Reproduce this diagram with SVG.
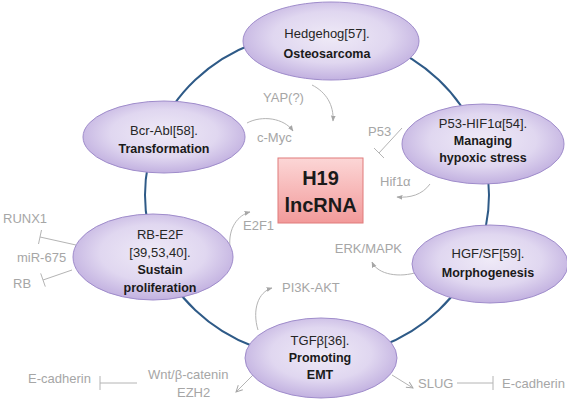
<svg xmlns="http://www.w3.org/2000/svg" width="567" height="402" viewBox="0 0 567 402">
<defs>
  <radialGradient id="ellFill" cx="50%" cy="45%" r="55%">
    <stop offset="0" stop-color="#efeaf7"/>
    <stop offset="0.6" stop-color="#e0d7f0"/>
    <stop offset="1" stop-color="#c2b1e0"/>
  </radialGradient>
  <linearGradient id="boxFill" x1="0" y1="0" x2="0" y2="1">
    <stop offset="0" stop-color="#fcd6d6"/>
    <stop offset="1" stop-color="#f29a9a"/>
  </linearGradient>
  <marker id="arr" viewBox="0 0 10 10" refX="9" refY="5" markerWidth="6" markerHeight="6" orient="auto" markerUnits="userSpaceOnUse">
    <path d="M0,1 L10,5 L0,9 z" fill="#a6a6a6"/>
  </marker>
  <marker id="arrOpen" viewBox="0 0 10 10" refX="9" refY="5" markerWidth="8" markerHeight="8" orient="auto" markerUnits="userSpaceOnUse">
    <path d="M1,1 L9,5 L1,9" fill="none" stroke="#a6a6a6" stroke-width="1.2"/>
  </marker>
</defs>
<style>
  .node ellipse { fill: url(#ellFill); stroke: #9f8ccb; stroke-width: 1; }
  .nt { font-family: "Liberation Sans", Arial, sans-serif; font-size: 13px; fill: #262626; text-anchor: middle; }
  .nb { font-family: "Liberation Sans", Arial, sans-serif; font-size: 12.5px; font-weight: bold; fill: #1a1a1a; text-anchor: middle; }
  .gl { font-family: "Liberation Sans", Arial, sans-serif; font-size: 13px; fill: #a6a6a6; }
  .ln { fill: none; stroke: #b4b4b4; stroke-width: 1; }
  .ring { fill: none; stroke: #2e5a87; stroke-width: 2; }
  .hb { font-family: "Liberation Sans", Arial, sans-serif; font-size: 20px; font-weight: bold; fill: #1a1a1a; text-anchor: middle; }
</style>
<rect width="567" height="402" fill="#ffffff"/>

<g id="connectors">
  <ellipse class="ring" cx="317" cy="195" rx="172" ry="163"/>
  <path class="ln" d="M312,85 C326,92 334,105 333,121" marker-end="url(#arr)"/>
  <path class="ln" d="M247,123 C262,115 284,118 293,131" marker-end="url(#arr)"/>
  <path class="ln" d="M402,128 L379,153 M374,148 L384,158"/>
  <path class="ln" d="M430,184 C422,195 410,198 397,197" marker-end="url(#arr)"/>
  <path class="ln" d="M418,272 C400,278 378,275 372,262" marker-end="url(#arr)"/>
  <path class="ln" d="M230,247 C228,228 238,215 250,212" marker-end="url(#arr)"/>
  <path class="ln" d="M258,330 C252,310 258,292 272,288" marker-end="url(#arr)"/>
  <path class="ln" d="M253,375 L236,392" marker-end="url(#arrOpen)"/>
  <path class="ln" d="M392,375 L413,388" marker-end="url(#arrOpen)"/>
  <path class="ln" d="M457,383 L493,383 M493,376 L493,390"/>
  <path class="ln" d="M137,383 L100,383 M100,376 L100,390"/>
  <path class="ln" d="M76,245 L40,237 M41.5,230 L38.5,244"/>
  <path class="ln" d="M72,270 L43,280 M45.3,286.6 L40.7,273.4"/>
</g>

<g id="labels">
  <text class="gl" x="263" y="102">YAP(?)</text>
  <text class="gl" x="257" y="142">c-Myc</text>
  <text class="gl" x="368" y="136">P53</text>
  <text class="gl" x="380" y="186">Hif1α</text>
  <text class="gl" x="402" y="253" text-anchor="end">ERK/MAPK</text>
  <text class="gl" x="243" y="230">E2F1</text>
  <text class="gl" x="282" y="292">PI3K-AKT</text>
  <text class="gl" x="418" y="388">SLUG</text>
  <text class="gl" x="502" y="388">E-cadherin</text>
  <text class="gl" x="28" y="383">E-cadherin</text>
  <text class="gl" x="148" y="379">Wnt/β-catenin</text>
  <text class="gl" x="177" y="397">EZH2</text>
  <text class="gl" x="3" y="223">RUNX1</text>
  <text class="gl" x="17" y="262">miR-675</text>
  <text class="gl" x="13" y="288">RB</text>
</g>

<g id="node-hedgehog" class="node">
  <ellipse cx="331" cy="41" rx="88" ry="39"/>
  <text class="nt" x="327" y="38">Hedgehog[57].</text>
  <text class="nb" x="327" y="58">Osteosarcoma</text>
</g>
<g id="node-p53" class="node">
  <ellipse cx="483" cy="144" rx="81" ry="40"/>
  <text class="nt" x="483" y="128">P53-HIF1α[54].</text>
  <text class="nb" x="483" y="145">Managing</text>
  <text class="nb" x="483" y="162">hypoxic stress</text>
</g>
<g id="node-bcrabl" class="node">
  <ellipse cx="164" cy="137" rx="81" ry="36"/>
  <text class="nt" x="164" y="135">Bcr-Abl[58].</text>
  <text class="nb" x="164" y="153">Transformation</text>
</g>
<g id="node-rbe2f" class="node">
  <ellipse cx="153" cy="257" rx="80" ry="43"/>
  <text class="nt" x="160" y="239">RB-E2F</text>
  <text class="nt" x="160" y="257">[39,53,40].</text>
  <text class="nb" x="160" y="274">Sustain</text>
  <text class="nb" x="160" y="292">proliferation</text>
</g>
<g id="node-hgf" class="node">
  <ellipse cx="490" cy="264" rx="78" ry="39"/>
  <text class="nt" x="488" y="258">HGF/SF[59].</text>
  <text class="nb" x="488" y="277">Morphogenesis</text>
</g>
<g id="node-tgfb" class="node">
  <ellipse cx="321" cy="358" rx="76" ry="40"/>
  <text class="nt" x="320" y="345">TGFβ[36].</text>
  <text class="nb" x="320" y="362">Promoting</text>
  <text class="nb" x="320" y="379">EMT</text>
</g>
<g id="node-h19">
  <rect x="278" y="158" width="85" height="65" fill="url(#boxFill)" stroke="#e07b7b" stroke-width="1"/>
  <text class="hb" x="320.5" y="185">H19</text>
  <text class="hb" x="320.5" y="212">lncRNA</text>
</g>
</svg>
